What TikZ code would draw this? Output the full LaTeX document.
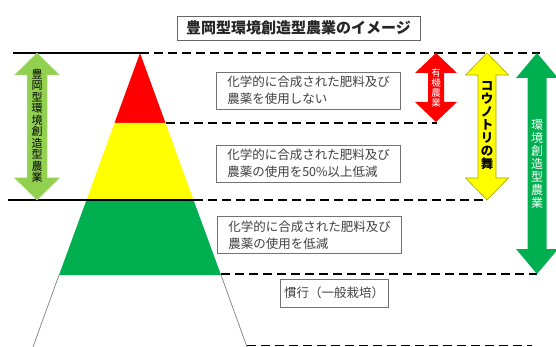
\documentclass[tikz,border=0pt]{standalone}
\usepackage{fontspec}
\setmainfont{Noto Sans CJK JP}
\definecolor{cred}{HTML}{FF0000}
\definecolor{cyel}{HTML}{FFFF00}
\definecolor{cgrn}{HTML}{00B050}
\definecolor{clgrn}{HTML}{92D050}
\definecolor{ctxt}{HTML}{404040}
\newcommand\mkdblarrow[7]{% style, cx, top, bottom, shaft half, head half, head length
  \path[#1] (#2,#3) -- ({#2+#6},{#3+#7}) -- ({#2+#5},{#3+#7}) -- ({#2+#5},{#4-#7}) -- ({#2+#6},{#4-#7})
    -- (#2,#4) -- ({#2-#6},{#4-#7}) -- ({#2-#5},{#4-#7}) -- ({#2-#5},{#3+#7}) -- ({#2-#6},{#3+#7}) -- cycle;}
\tikzset{
  dashline/.style={line width=1.7pt, dash pattern=on 9pt off 5pt, black},
  solidline/.style={line width=1.4pt, black},
  infobox/.style={draw=black!55, line width=0.6pt, fill=white, text=ctxt, align=left,
    font=\fontsize{12.5}{17}\selectfont, minimum width=184pt, minimum height=37pt, inner sep=3pt},
  vtext/.style={align=center, inner sep=0pt},
}
\begin{document}
\begin{tikzpicture}[x=1pt,y=-1pt]
\useasboundingbox (0,0) rectangle (556,347);
% pyramid
\fill[cred] (140,53) -- (165.5,123) -- (114.5,123) -- cycle;
\fill[cyel] (114.5,123) -- (165.5,123) -- (193.5,200) -- (86.5,200) -- cycle;
\fill[cgrn] (86.5,200) -- (193.5,200) -- (221,275) -- (59,275) -- cycle;
\draw[black!50, line width=0.7pt] (59,275) -- (33,347) (221,275) -- (247,347);
% lines
\draw[solidline] (13,53) -- (140,53);
\draw[solidline] (8,200) -- (193.5,200);
\draw[dashline] (140,53) -- (540,53);
\draw[dashline] (166,123) -- (437,123);
\draw[dashline] (194,200) -- (487,200);
\draw[dashline] (221,274) -- (537,274);
\draw[dashline] (247,345.5) -- (532,345.5);
% arrows
\mkdblarrow{fill=clgrn, draw=clgrn!70!white, line width=0.5pt}{37}{53}{200}{10}{22.5}{22}
\mkdblarrow{fill=cred}{436}{53}{122}{8}{21}{20}
\mkdblarrow{fill=cyel, draw=black!35!cyel, line width=0.6pt}{487}{53}{200}{9}{21.5}{22}
\mkdblarrow{fill=cgrn}{537}{53}{274}{9.5}{21}{25}
% vertical texts
\node[vtext, text=black, font=\fontsize{11}{11.5}\selectfont] (lt) at (37,126)
  {豊\\岡\\型\\環\\境\\創\\造\\型\\農\\業};
\node[vtext, text=white, font=\fontsize{9.5}{10}\selectfont] (rt) at (436,88)
  {有\\機\\農\\業};
\node[vtext, text=black, font=\bfseries\fontsize{12.5}{13}\selectfont] (yt) at (487,126)
  {コ\\ウ\\ノ\\ト\\リ\\の\\舞};
\node[vtext, text=white, font=\fontsize{12}{13}\selectfont] (gt) at (537,164)
  {環\\境\\創\\造\\型\\農\\業};
% title
\node[draw=black!60, line width=0.6pt, font=\bfseries\fontsize{15}{16}\selectfont, text=black!85,
  minimum width=243pt, minimum height=24pt, inner sep=2pt] (title) at (298.5,28)
  {豊岡型環境創造型農業のイメージ};
% boxes
\node[infobox] (b1) at (308.5,90.5) {化学的に合成された肥料及び\\農薬を使用しない};
\node[infobox] (b2) at (308.5,163.5) {化学的に合成された肥料及び\\農薬の使用を50\%以上低減};
\node[infobox] (b3) at (309.5,235) {化学的に合成された肥料及び\\農薬の使用を低減};
\node[draw=black!55, line width=0.6pt, text=ctxt, font=\fontsize{12.5}{17}\selectfont,
  minimum width=108pt, minimum height=28pt, inner sep=3pt] (b4) at (334,293) {慣行（一般栽培）};
\end{tikzpicture}
\end{document}
